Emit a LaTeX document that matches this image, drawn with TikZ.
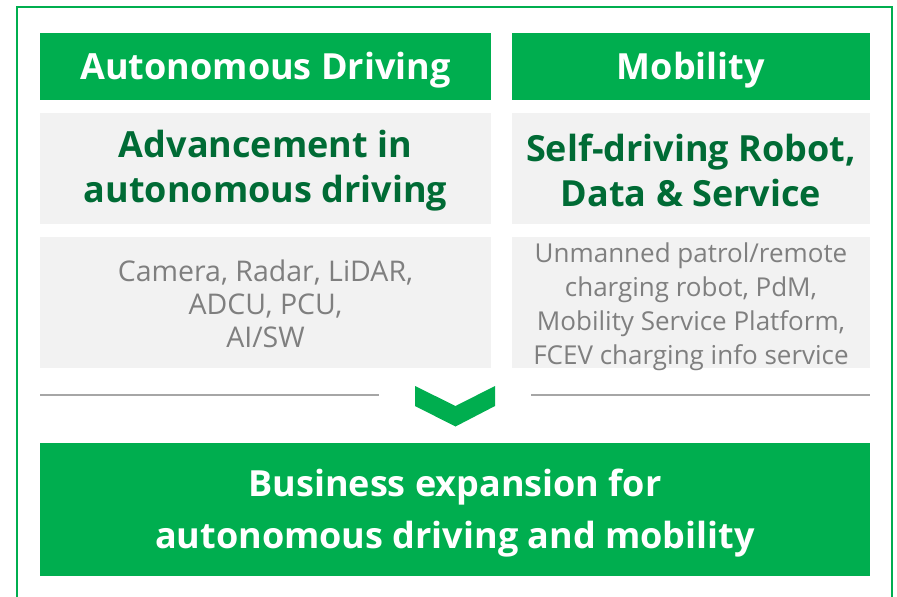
\documentclass[tikz,border=0pt]{standalone}
\usepackage{fontspec}
\setmainfont{Open Sans}
\usepackage{tikz}
\definecolor{hgreen}{RGB}{0,174,79}
\definecolor{tgreen}{RGB}{0,107,53}
\definecolor{boxgray}{RGB}{242,242,242}
\definecolor{txtgray}{RGB}{127,127,127}
\definecolor{rulegray}{RGB}{166,166,166}
\tikzset{
  box/.style={rectangle, inner sep=0pt, outer sep=0pt},
  txt/.style={inner sep=0pt, align=center},
  headtxt/.style={txt, text=white, font=\bfseries\fontsize{36}{42}\selectfont},
  titletxt/.style={txt, text=tgreen, font=\bfseries\fontsize{36}{45}\selectfont},
  itemtxt/.style={txt, text=txtgray},
}

\begin{document}
\begin{tikzpicture}[x=1pt,y=-1pt]
      \useasboundingbox (0,0) rectangle (897,597);
      % outer frame
      \draw[hgreen, line width=2pt] (17,605) -- (17,7) -- (892,7) -- (892,605);
      % headers
      \node[box, fill=hgreen, minimum width=451pt, minimum height=67pt] (hdrauto) at (265.5,66.5) {};
      \node[box, fill=hgreen, minimum width=358pt, minimum height=67pt] (hdrmob) at (691,66.5) {};
      \node[headtxt] (hdrautotxt) at ([yshift=-4pt]hdrauto.center) {Autonomous Driving};
      \node[headtxt] (hdrmobtxt) at ([yshift=-4pt]hdrmob.center) {Mobility};
      % titles
      \node[box, fill=boxgray, minimum width=451pt, minimum height=111pt] (ttlauto) at (265.5,168.5) {};
      \node[box, fill=boxgray, minimum width=358pt, minimum height=111pt] (ttlmob) at (691,168.5) {};
      \node[titletxt] (ttlautotxt) at ([yshift=-2pt]ttlauto.center) {Advancement in\\autonomous driving};
      \node[titletxt] (ttlmobtxt) at ([yshift=-2pt]ttlmob.center) {Self-driving Robot,\\Data \& Service};
      % items
      \node[box, fill=boxgray, minimum width=451pt, minimum height=131pt] (itmauto) at (265.5,302.5) {};
      \node[box, fill=boxgray, minimum width=358pt, minimum height=131pt] (itmmob) at (691,302.5) {};
      \node[itemtxt, font=\fontsize{28.5}{33}\selectfont] (itmautotxt) at ([yshift=-1pt]itmauto.center) {Camera, Radar, LiDAR,\\ADCU, PCU,\\AI/SW};
      \node[itemtxt, font=\fontsize{26}{34}\selectfont] (itmmobtxt) at ([yshift=-4pt]itmmob.center) {Unmanned patrol/remote\\charging robot, PdM,\\Mobility Service Platform,\\FCEV charging info service};
      % separator lines
      \draw[rulegray, line width=1.5pt] (40,395) -- (379,395);
      \draw[rulegray, line width=1.5pt] (531,395) -- (870,395);
      % chevron
      \fill[hgreen] (415,386) -- (455.5,406) -- (495,386) -- (495,406) -- (455.5,426.5) -- (415,406) -- cycle;
      % result
      \node[box, fill=hgreen, minimum width=830pt, minimum height=133pt] (result) at (455,509.5) {};
      \node[txt, text=white, font=\bfseries\fontsize{36}{52}\selectfont] (resulttxt) at ([yshift=-4pt]result.center) {Business expansion for\\autonomous driving and mobility};
\end{tikzpicture}
\end{document}
